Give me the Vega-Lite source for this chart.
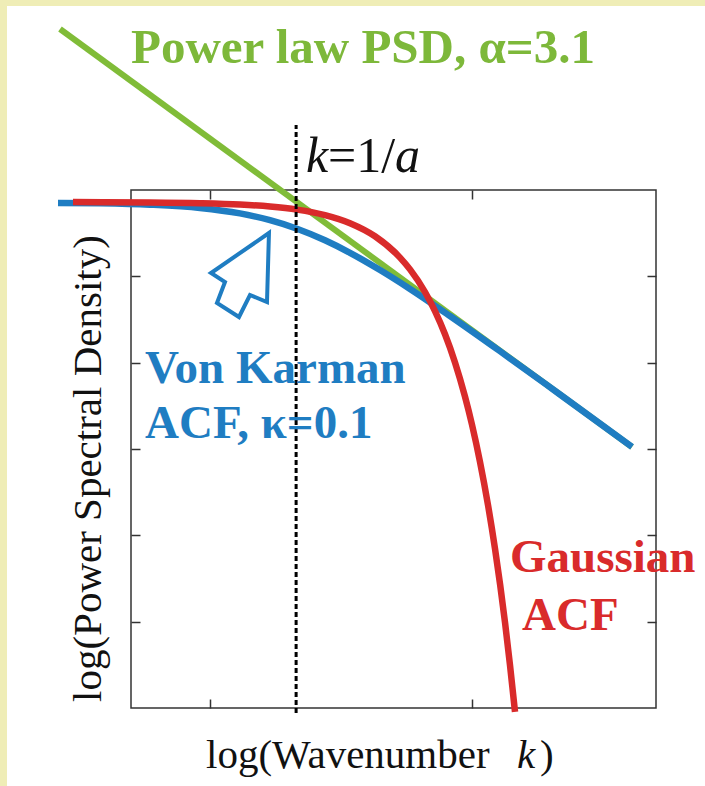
{
  "$schema": "https://vega.github.io/schema/vega-lite/v6.json",
  "width": 525,
  "height": 518,
  "autosize": {"type": "none"},
  "padding": {"left": 131, "top": 190, "right": 49, "bottom": 78},
  "background": "white",
  "config": {
    "view": {"stroke": "#333333", "strokeWidth": 1.5, "fill": "white"},
    "axis": {"grid": false, "labels": false, "domain": false, "ticks": true, "tickSize": -9, "tickColor": "#333333", "tickWidth": 1.5, "title": null}
  },
  "resolve": {"axis": {"x": "independent", "y": "independent"}},
  "layer": [
    {
      "data": {"values": [
        {"x": -0.84, "x2": 1.95, "y": 3.32, "y2": 3.131},
        {"x": -0.84, "x2": -0.7724, "y": 3.32, "y2": -6.07}
      ]},
      "mark": {"type": "rect", "fill": "#EFEDB6", "strokeWidth": 0},
      "encoding": {
        "x": {"field": "x", "type": "quantitative", "scale": {"domain": [-0.3, 1.7], "nice": false, "zero": false}, "axis": null},
        "x2": {"field": "x2"},
        "y": {"field": "y", "type": "quantitative", "scale": {"domain": [-5, 1], "nice": false, "zero": false}, "axis": null},
        "y2": {"field": "y2"}
      }
    },
    {
      "data": {"values": [
        {"x": -0.5705, "y": 2.8649},
        {"x": 1.6086, "y": -1.9769}
      ]},
      "mark": {"type": "line", "color": "#80BC38", "strokeWidth": 6, "strokeCap": "butt"},
      "encoding": {
        "x": {"field": "x", "type": "quantitative", "scale": {"domain": [-0.3, 1.7], "nice": false, "zero": false}, "axis": {"orient": "bottom", "values": [0, 1]}},
        "y": {"field": "y", "type": "quantitative", "scale": {"domain": [-5, 1], "nice": false, "zero": false}, "axis": {"orient": "left", "values": [0, -1, -2, -3, -4]}}
      }
    },
    {
      "data": {"values": [
        {"x": -0.5781, "y": 0.8506},
        {"x": -0.4181, "y": 0.8459},
        {"x": -0.2276, "y": 0.8297},
        {"x": -0.0371, "y": 0.7927},
        {"x": 0.1152, "y": 0.7290},
        {"x": 0.2295, "y": 0.6502},
        {"x": 0.3324, "y": 0.5517},
        {"x": 0.4390, "y": 0.4174},
        {"x": 0.5343, "y": 0.2726},
        {"x": 0.6486, "y": 0.0733},
        {"x": 0.7629, "y": -0.1456},
        {"x": 0.9152, "y": -0.4595},
        {"x": 1.1057, "y": -0.8673},
        {"x": 1.3343, "y": -1.3688},
        {"x": 1.6086, "y": -1.9746}
      ]},
      "mark": {"type": "line", "color": "#1F7DC2", "strokeWidth": 6.5, "interpolate": "monotone", "strokeCap": "butt"},
      "encoding": {
        "x": {"field": "x", "type": "quantitative", "scale": {"domain": [-0.3, 1.7], "nice": false, "zero": false}, "axis": {"orient": "top", "values": [0, 1]}},
        "y": {"field": "y", "type": "quantitative", "scale": {"domain": [-5, 1], "nice": false, "zero": false}, "axis": {"orient": "right", "values": [0, -1, -2, -3, -4]}}
      }
    },
    {
      "data": {"values": [
        {"x": -0.5210, "y": 0.8598},
        {"x": -0.2276, "y": 0.8558},
        {"x": -0.0371, "y": 0.8473},
        {"x": 0.1152, "y": 0.8315},
        {"x": 0.2295, "y": 0.8084},
        {"x": 0.3324, "y": 0.7725},
        {"x": 0.4390, "y": 0.7093},
        {"x": 0.5343, "y": 0.6154},
        {"x": 0.6295, "y": 0.4637},
        {"x": 0.7248, "y": 0.2170},
        {"x": 0.7629, "y": 0.0803},
        {"x": 0.8200, "y": -0.1815},
        {"x": 0.8581, "y": -0.4039},
        {"x": 0.8962, "y": -0.6715},
        {"x": 0.9343, "y": -0.9970},
        {"x": 0.9724, "y": -1.3931},
        {"x": 0.9990, "y": -1.7175},
        {"x": 1.0295, "y": -2.1484},
        {"x": 1.0600, "y": -2.6487},
        {"x": 1.0867, "y": -3.1561},
        {"x": 1.1248, "y": -4.0087},
        {"x": 1.1438, "y": -4.5020},
        {"x": 1.1629, "y": -5.0443}
      ]},
      "mark": {"type": "line", "color": "#D92B2B", "strokeWidth": 6.5, "interpolate": "monotone", "strokeCap": "butt"},
      "encoding": {
        "x": {"field": "x", "type": "quantitative", "scale": {"domain": [-0.3, 1.7], "nice": false, "zero": false}, "axis": null},
        "y": {"field": "y", "type": "quantitative", "scale": {"domain": [-5, 1], "nice": false, "zero": false}, "axis": null}
      }
    },
    {
      "data": {"values": [{"x": 0.329, "y": -5.058, "y2": 1.753}]},
      "mark": {"type": "rule", "color": "#000000", "strokeWidth": 3, "strokeDash": [5, 3]},
      "encoding": {
        "x": {"field": "x", "type": "quantitative", "scale": {"domain": [-0.3, 1.7], "nice": false, "zero": false}, "axis": null},
        "y": {"field": "y", "type": "quantitative", "scale": {"domain": [-5, 1], "nice": false, "zero": false}, "axis": null},
        "y2": {"field": "y2"}
      }
    },
    {
      "data": {"values": [{"x": 0.1152, "y": 0.0154}]},
      "mark": {"type": "point", "shape": "M0.690,-1.000L-0.690,-0.048L-0.357,0.167L-0.548,0.667L-0.024,1.000L0.238,0.476L0.643,0.643Z", "size": 7056, "filled": false, "stroke": "#1F7DC2", "strokeWidth": 4, "opacity": 1, "strokeJoin": "miter"},
      "encoding": {
        "x": {"field": "x", "type": "quantitative", "scale": {"domain": [-0.3, 1.7], "nice": false, "zero": false}, "axis": null},
        "y": {"field": "y", "type": "quantitative", "scale": {"domain": [-5, 1], "nice": false, "zero": false}, "axis": null}
      }
    },
    {
      "data": {"values": [{"x": -0.3, "y": 2.471, "text": "Power law PSD, α=3.1"}]},
      "mark": {"type": "text", "font": "Liberation Serif", "fontSize": 49, "fontWeight": "bold", "color": "#7DB83A", "align": "left", "baseline": "alphabetic"},
      "encoding": {
        "x": {"field": "x", "type": "quantitative", "scale": {"domain": [-0.3, 1.7], "nice": false, "zero": false}, "axis": null},
        "y": {"field": "y", "type": "quantitative", "scale": {"domain": [-5, 1], "nice": false, "zero": false}, "axis": null},
        "text": {"field": "text"}
      }
    },
    {
      "data": {"values": [
        {"x": -0.2467, "y": -1.2356, "text": "Von Karman"},
        {"x": -0.2467, "y": -1.8727, "text": "ACF, κ=0.1"}
      ]},
      "mark": {"type": "text", "font": "Liberation Serif", "fontSize": 47, "fontWeight": "bold", "color": "#1F7DC2", "align": "left", "baseline": "alphabetic"},
      "encoding": {
        "x": {"field": "x", "type": "quantitative", "scale": {"domain": [-0.3, 1.7], "nice": false, "zero": false}, "axis": null},
        "y": {"field": "y", "type": "quantitative", "scale": {"domain": [-5, 1], "nice": false, "zero": false}, "axis": null},
        "text": {"field": "text"}
      }
    },
    {
      "data": {"values": [
        {"x": 1.1438, "y": -3.4248, "text": "Gaussian"},
        {"x": 1.1895, "y": -4.0967, "text": "ACF"}
      ]},
      "mark": {"type": "text", "font": "Liberation Serif", "fontSize": 47, "fontWeight": "bold", "color": "#D92B2B", "align": "left", "baseline": "alphabetic"},
      "encoding": {
        "x": {"field": "x", "type": "quantitative", "scale": {"domain": [-0.3, 1.7], "nice": false, "zero": false}, "axis": null},
        "y": {"field": "y", "type": "quantitative", "scale": {"domain": [-5, 1], "nice": false, "zero": false}, "axis": null},
        "text": {"field": "text"}
      }
    },
    {
      "data": {"values": [
        {"x": 0.3667, "y": 1.2085, "text": "k"},
        {"x": 0.7057, "y": 1.2085, "text": "a"}
      ]},
      "mark": {"type": "text", "font": "Liberation Serif", "fontSize": 50, "fontStyle": "italic", "color": "#111111", "align": "left", "baseline": "alphabetic"},
      "encoding": {
        "x": {"field": "x", "type": "quantitative", "scale": {"domain": [-0.3, 1.7], "nice": false, "zero": false}, "axis": null},
        "y": {"field": "y", "type": "quantitative", "scale": {"domain": [-5, 1], "nice": false, "zero": false}, "axis": null},
        "text": {"field": "text"}
      }
    },
    {
      "data": {"values": [
        {"x": 0.4505, "y": 1.2085, "text": "=1/"}
      ]},
      "mark": {"type": "text", "font": "Liberation Serif", "fontSize": 50, "color": "#111111", "align": "left", "baseline": "alphabetic"},
      "encoding": {
        "x": {"field": "x", "type": "quantitative", "scale": {"domain": [-0.3, 1.7], "nice": false, "zero": false}, "axis": null},
        "y": {"field": "y", "type": "quantitative", "scale": {"domain": [-5, 1], "nice": false, "zero": false}, "axis": null},
        "text": {"field": "text"}
      }
    },
    {
      "data": {"values": [
        {"x": 1.1705, "y": -5.695, "text": "k"}
      ]},
      "mark": {"type": "text", "font": "Liberation Serif", "fontSize": 41, "fontStyle": "italic", "color": "#111111", "align": "left", "baseline": "alphabetic"},
      "encoding": {
        "x": {"field": "x", "type": "quantitative", "scale": {"domain": [-0.3, 1.7], "nice": false, "zero": false}, "axis": null},
        "y": {"field": "y", "type": "quantitative", "scale": {"domain": [-5, 1], "nice": false, "zero": false}, "axis": null},
        "text": {"field": "text"}
      }
    },
    {
      "data": {"values": [
        {"x": -0.0143, "y": -5.695, "text": "log(Wavenumber"},
        {"x": 1.2581, "y": -5.695, "text": ")"}
      ]},
      "mark": {"type": "text", "font": "Liberation Serif", "fontSize": 41, "color": "#111111", "align": "left", "baseline": "alphabetic"},
      "encoding": {
        "x": {"field": "x", "type": "quantitative", "scale": {"domain": [-0.3, 1.7], "nice": false, "zero": false}, "axis": null},
        "y": {"field": "y", "type": "quantitative", "scale": {"domain": [-5, 1], "nice": false, "zero": false}, "axis": null},
        "text": {"field": "text"}
      }
    },
    {
      "data": {"values": [
        {"x": -0.4143, "y": -2.226, "text": "log(Power Spectral Density)"}
      ]},
      "mark": {"type": "text", "font": "Liberation Serif", "fontSize": 41, "color": "#111111", "align": "center", "baseline": "alphabetic", "angle": 270},
      "encoding": {
        "x": {"field": "x", "type": "quantitative", "scale": {"domain": [-0.3, 1.7], "nice": false, "zero": false}, "axis": null},
        "y": {"field": "y", "type": "quantitative", "scale": {"domain": [-5, 1], "nice": false, "zero": false}, "axis": null},
        "text": {"field": "text"}
      }
    }
  ]
}
